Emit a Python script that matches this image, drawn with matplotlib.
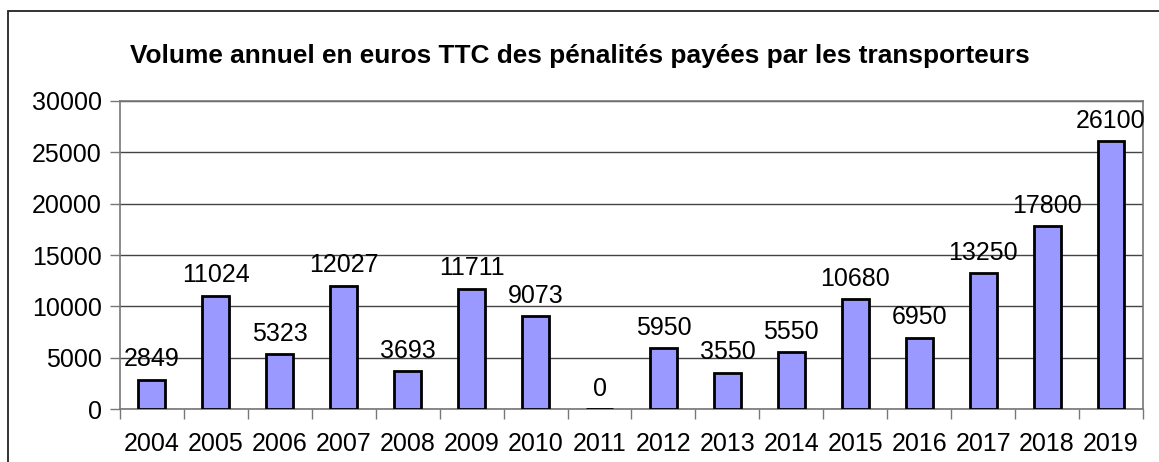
import numpy as np
import matplotlib.pyplot as plt
from matplotlib.patches import Rectangle

plt.rcParams['font.family'] = ['Liberation Sans', 'DejaVu Sans']

years = ["2004", "2005", "2006", "2007", "2008", "2009", "2010", "2011",
         "2012", "2013", "2014", "2015", "2016", "2017", "2018", "2019"]
penalties = [2849, 11024, 5323, 12027, 3693, 11711, 9073, 0,
             5950, 3550, 5550, 10680, 6950, 13250, 17800, 26100]
y_ticks = [0, 5000, 10000, 15000, 20000, 25000, 30000]

title = "Volume annuel en euros TTC des pénalités payées par les transporteurs"

fig = plt.figure(figsize=(11.59, 4.62), dpi=100)
ax = fig.add_axes([0.1035, 0.1147, 0.8827, 0.6667])

# frame around the whole chart
fig.patches.append(Rectangle((8 / 1159, -0.05), 1.2, 1 - 11 / 462 + 0.05,
                             transform=fig.transFigure, fill=False,
                             edgecolor="#222222", linewidth=1.3))

x = np.arange(len(years))
ax.bar(x, penalties, width=0.42, color="#9999ff", edgecolor="black",
       linewidth=2.0, zorder=3)

for xi, v in zip(x, penalties):
    ax.annotate(str(v), (xi, v), xytext=(0, 6), textcoords="offset points",
                ha="center", va="bottom", fontsize=18, zorder=4)

ax.set_xlim(-0.5, len(years) - 0.5)
ax.set_ylim(0, 30000)

ax.set_yticks(y_ticks)
ax.set_yticklabels([str(t) for t in y_ticks], fontsize=18)
ax.yaxis.grid(True, color="#444444", linewidth=1.0, zorder=0)

# tick marks between categories, labels centred on bars
ax.set_xticks(np.arange(len(years) + 1) - 0.5)
ax.set_xticklabels([])
ax.set_xticks(x, minor=True)
ax.set_xticklabels(years, minor=True, fontsize=18)
ax.tick_params(axis="x", which="major", length=7, width=1, color="#777777")
ax.tick_params(axis="x", which="minor", length=0, pad=16.5)
ax.tick_params(axis="y", length=7, width=1, color="#777777", pad=6)

for s in ax.spines.values():
    s.set_color("#777777")
    s.set_linewidth(1.2)

fig.text(0.5, 1 - 56 / 462, title, ha="center", va="center",
         fontsize=18.9, fontweight="bold")

fig.savefig("out.png", dpi=100)
